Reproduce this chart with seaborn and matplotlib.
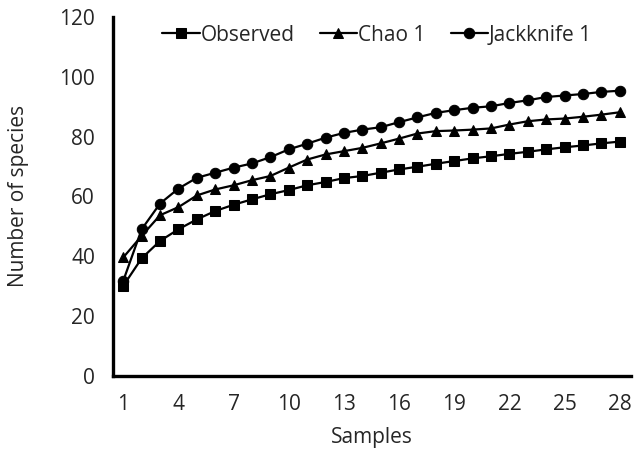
import pandas as pd
import matplotlib
matplotlib.use("Agg")
import matplotlib.pyplot as plt
import seaborn as sns

# Species accumulation curves
samples = list(range(1, 29))
observed = [30.1, 39.3, 45.1, 49.0, 52.3, 55.1, 57.2, 59.0, 60.7, 62.1,
            63.7, 64.8, 66.1, 66.8, 67.9, 69.0, 69.9, 70.9, 71.8, 72.7,
            73.4, 74.2, 74.9, 75.7, 76.4, 77.0, 77.7, 78.3]
chao1 = [39.6, 46.8, 53.7, 56.4, 60.3, 62.3, 63.7, 65.4, 66.8, 69.6,
         72.3, 74.0, 75.1, 76.2, 77.7, 79.3, 81.0, 81.8, 82.0, 82.3,
         82.7, 84.0, 85.1, 85.7, 86.0, 86.6, 87.3, 88.1]
jackknife1 = [31.8, 49.0, 57.6, 62.6, 66.2, 67.9, 69.6, 71.0, 73.1, 75.7,
              77.6, 79.6, 81.2, 82.3, 83.1, 84.8, 86.4, 87.9, 88.8, 89.6,
              90.1, 91.2, 92.1, 93.2, 93.7, 94.2, 94.9, 95.3]
series_names = ["Observed", "Chao 1", "Jackknife 1"]
x_ticks = list(range(1, 29, 3))
y_ticks = [0, 20, 40, 60, 80, 100, 120]

df = pd.DataFrame({
    "Samples": samples * 3,
    "Species": observed + chao1 + jackknife1,
    "Estimator": [n for n in series_names for _ in samples],
})

sns.set_style("white")
plt.rcParams["font.family"] = ["Open Sans", "DejaVu Sans"]

fig = plt.figure(figsize=(6.43, 4.54), dpi=100)
ax = fig.add_axes([0.176, 0.172, 0.805, 0.791])

sns.lineplot(data=df, x="Samples", y="Species", hue="Estimator",
             style="Estimator", palette=["black"] * 3,
             markers={"Observed": "s", "Chao 1": "^", "Jackknife 1": "o"},
             dashes=False, markersize=7.5, linewidth=1.6,
             markeredgecolor="black", ax=ax)

ax.set_xlim(0.45, 28.6)
ax.set_ylim(0, 120)
ax.set_xticks(x_ticks)
ax.set_yticks(y_ticks)
ax.tick_params(axis="both", length=0, pad=13, labelsize=15)

for side in ["top", "right"]:
    ax.spines[side].set_visible(False)
for side in ["left", "bottom"]:
    ax.spines[side].set_linewidth(2.4)
    ax.spines[side].set_color("black")

ax.set_xlabel("Samples", fontsize=15, labelpad=9)
ax.set_ylabel("Number of species", fontsize=15, labelpad=22)

handles, labels = ax.get_legend_handles_labels()
ax.legend(handles, labels, ncol=3, frameon=False, loc="upper center",
          bbox_to_anchor=(0.51, 1.03), fontsize=15, handlelength=1.8,
          handletextpad=0.05, columnspacing=1.2)

fig.savefig("out.png", dpi=100)
